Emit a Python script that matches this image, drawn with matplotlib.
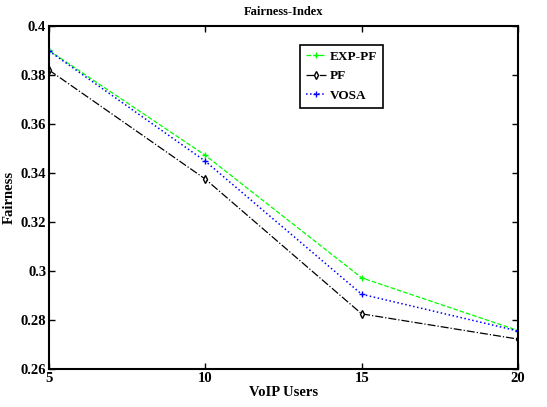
import matplotlib
matplotlib.use('Agg')
import matplotlib.pyplot as plt

# data
users = [5, 10, 15, 20]
exp_pf = [0.3900, 0.3472, 0.2972, 0.2757]
pf = [0.3820, 0.3375, 0.2825, 0.2722]
vosa = [0.3898, 0.3448, 0.2905, 0.2755]
yticks = [0.26, 0.28, 0.3, 0.32, 0.34, 0.36, 0.38, 0.4]
ylabels = ['0.26', '0.28', '0.3', '0.32', '0.34', '0.36', '0.38', '0.4']

plt.rcParams['font.family'] = ['Liberation Serif', 'DejaVu Serif']
plt.rcParams['font.weight'] = 'bold'

fig = plt.figure(figsize=(5.47, 4.07), dpi=100)
ax = fig.add_axes([0.0896, 0.0934, 0.8574, 0.8428])

ax.plot(users, exp_pf, color='#00ff00', ls='--', lw=0.9, marker='+', ms=5, label='EXP-PF')
ax.plot(users, pf, color='black', ls='-.', lw=0.9, marker='d', ms=4, mfc='white', label='PF')
ax.plot(users, vosa, color='blue', ls=':', lw=1.1, marker='+', ms=5, label='VOSA')

ax.set_xlim(5, 20)
ax.set_ylim(0.26, 0.4)
ax.set_xticks(users)
ax.set_yticks(yticks)
ax.set_yticklabels(ylabels)
ax.tick_params(direction='in', top=True, right=True, length=4, labelsize=10.5, width=1, pad=2)
for s in ax.spines.values():
    s.set_linewidth(1.5)

ax.set_xlabel('VoIP Users', fontsize=10.5, fontweight='bold', labelpad=1)
ax.set_ylabel('Fairness', fontsize=10.5, fontweight='bold')
ax.yaxis.set_label_coords(-0.072, 0.5)
ax.set_title('Fairness-Index', fontsize=9, fontweight='bold', pad=8)

leg = ax.legend(loc='upper left', bbox_to_anchor=(0.535, 0.945), fontsize=9.5,
                handlelength=1.5, handletextpad=0.3, borderpad=0.45, labelspacing=0.55,
                borderaxespad=0, fancybox=False, framealpha=1, edgecolor='black')
leg.get_frame().set_linewidth(1.2)

plt.savefig('out.png', dpi=100)
